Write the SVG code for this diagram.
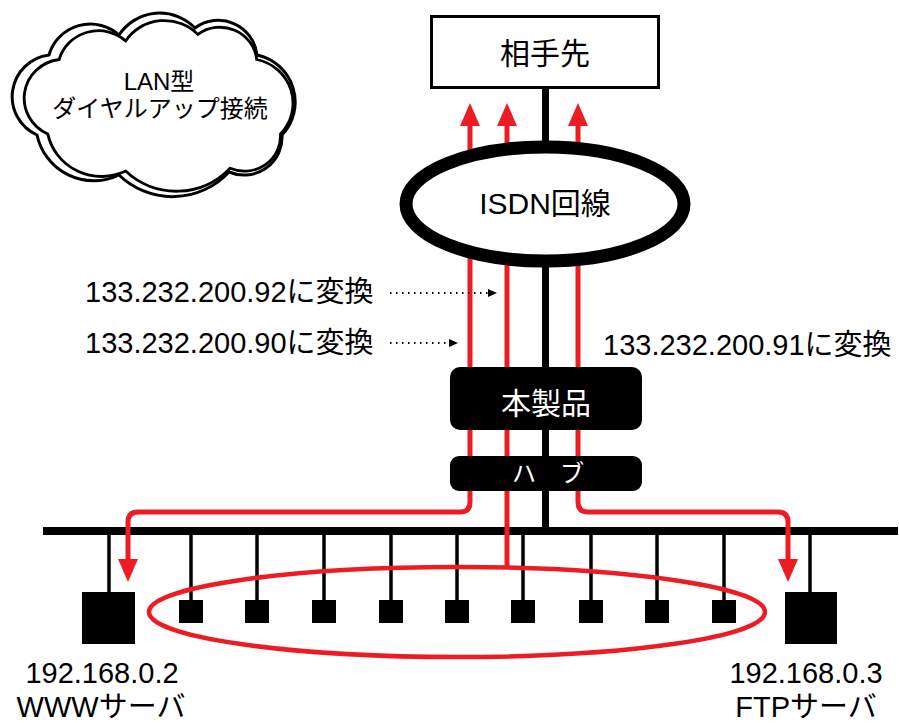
<svg xmlns="http://www.w3.org/2000/svg" width="899" height="723" viewBox="0 0 899 723">
<style>
text{font-family:"Liberation Sans","Noto Sans CJK JP",sans-serif;fill:#000}
.lbl{font-size:29px}
.wt{fill:#fff}
.red{fill:none;stroke:#ed1c24;stroke-width:5}
.blk{fill:none;stroke:#000}
.stem{stroke:#000;stroke-width:3.5}
.sq{fill:#000}
.dot{fill:none;stroke:#000;stroke-width:2;stroke-dasharray:1.5 4.5}
.cl{fill:#fff;stroke:#000;stroke-width:3}
</style>
<defs>
<marker id="ra" viewBox="0 0 23 20" markerWidth="23" markerHeight="20" refX="1" refY="10" orient="auto-start-reverse" markerUnits="userSpaceOnUse">
<path d="M0,0 L23,10 L0,20 Z" fill="#ed1c24"/>
</marker>
<marker id="ba" viewBox="0 0 9 8" markerWidth="9" markerHeight="8" refX="1" refY="4" orient="auto" markerUnits="userSpaceOnUse">
<path d="M0,0 L9,4 L0,8 Z" fill="#000"/>
</marker>
<path id="cloudpath" d="M40,135 A42,42 0 0 1 52,55 A43,43 0 0 1 122,35 A49,49 0 0 1 198,28 A39,39 0 0 1 260,55 A48,48 0 0 1 285,135 A38,38 0 0 1 232,172 A77,77 0 0 1 122,175 A58,58 0 0 1 40,135 Z"/>
</defs>

<g id="cloud">
<use href="#cloudpath" class="cl" transform="translate(152,105) scale(1.0,1.0) translate(-155,-105)"/>
<use href="#cloudpath" class="cl" transform="translate(157,106) scale(0.95,0.93) translate(-155,-105)"/>
<text x="159" y="90" font-size="24" text-anchor="middle">LAN型</text>
<text x="160" y="117" font-size="24" text-anchor="middle">ダイヤルアップ接続</text>
</g>

<g id="connectors">
<line class="blk" x1="545.5" y1="89" x2="545.5" y2="528" stroke-width="7"/>
<line class="blk" x1="43" y1="531" x2="898" y2="531" stroke-width="8"/>
<line class="stem" x1="109" y1="531" x2="109" y2="593"/>
<line class="stem" x1="810" y1="531" x2="810" y2="593"/>
<line class="stem" x1="191" y1="531" x2="191" y2="601"/>
<line class="stem" x1="257" y1="531" x2="257" y2="601"/>
<line class="stem" x1="324" y1="531" x2="324" y2="601"/>
<line class="stem" x1="391" y1="531" x2="391" y2="601"/>
<line class="stem" x1="457" y1="531" x2="457" y2="601"/>
<line class="stem" x1="523" y1="531" x2="523" y2="601"/>
<line class="stem" x1="591" y1="531" x2="591" y2="601"/>
<line class="stem" x1="657" y1="531" x2="657" y2="601"/>
<line class="stem" x1="724" y1="531" x2="724" y2="601"/>
<path class="red" d="M470,125 V502 Q470,512 460,512 H138 Q128,512 128,522 V560" marker-start="url(#ra)" marker-end="url(#ra)"/>
<path class="red" d="M507,125 V567" marker-start="url(#ra)"/>
<path class="red" d="M578,125 V502 Q578,512 588,512 H778 Q788,512 788,522 V560" marker-start="url(#ra)" marker-end="url(#ra)"/>
<ellipse cx="457" cy="612" rx="308" ry="45" fill="none" stroke="#ed1c24" stroke-width="4.5"/>
<line class="dot" x1="390" y1="293" x2="489" y2="293" marker-end="url(#ba)"/>
<line class="dot" x1="390" y1="343" x2="450" y2="343" marker-end="url(#ba)"/>
</g>

<g id="partner">
<rect x="431.5" y="16.5" width="227" height="71" fill="#fff" stroke="#000" stroke-width="3"/>
<text x="545" y="64" font-size="30" text-anchor="middle">相手先</text>
</g>

<g id="isdn">
<ellipse cx="545" cy="204" rx="139" ry="57" fill="#fff" stroke="#000" stroke-width="13"/>
<text x="545" y="214" font-size="30" text-anchor="middle">ISDN回線</text>
</g>

<g id="product">
<rect x="450" y="367" width="192" height="63" rx="10" fill="#000"/>
<text class="wt" x="546" y="414" font-size="30" text-anchor="middle">本製品</text>
</g>

<g id="hub">
<rect x="450" y="456" width="192" height="35" rx="9" fill="#000"/>
<text class="wt" x="548" y="482" font-size="24" text-anchor="middle">ハ　ブ</text>
</g>

<g id="labels">
<text class="lbl" x="85" y="302">133.232.200.92に変換</text>
<text class="lbl" x="85" y="353">133.232.200.90に変換</text>
<text class="lbl" x="603" y="355">133.232.200.91に変換</text>
</g>

<g id="www">
<rect class="sq" x="82" y="592" width="53" height="52"/>
<text class="lbl" x="102" y="683" text-anchor="middle">192.168.0.2</text>
<text class="lbl" x="101" y="717" text-anchor="middle">WWWサーバ</text>
</g>

<g id="ftp">
<rect class="sq" x="785" y="592" width="52" height="52"/>
<text class="lbl" x="806" y="683" text-anchor="middle">192.168.0.3</text>
<text class="lbl" x="806" y="717" text-anchor="middle">FTPサーバ</text>
</g>

<g id="clients">
<rect class="sq" x="179" y="600" width="24" height="23"/>
<rect class="sq" x="245" y="600" width="24" height="23"/>
<rect class="sq" x="312" y="600" width="24" height="23"/>
<rect class="sq" x="379" y="600" width="24" height="23"/>
<rect class="sq" x="445" y="600" width="24" height="23"/>
<rect class="sq" x="511" y="600" width="24" height="23"/>
<rect class="sq" x="579" y="600" width="24" height="23"/>
<rect class="sq" x="645" y="600" width="24" height="23"/>
<rect class="sq" x="712" y="600" width="24" height="23"/>
</g>
</svg>
